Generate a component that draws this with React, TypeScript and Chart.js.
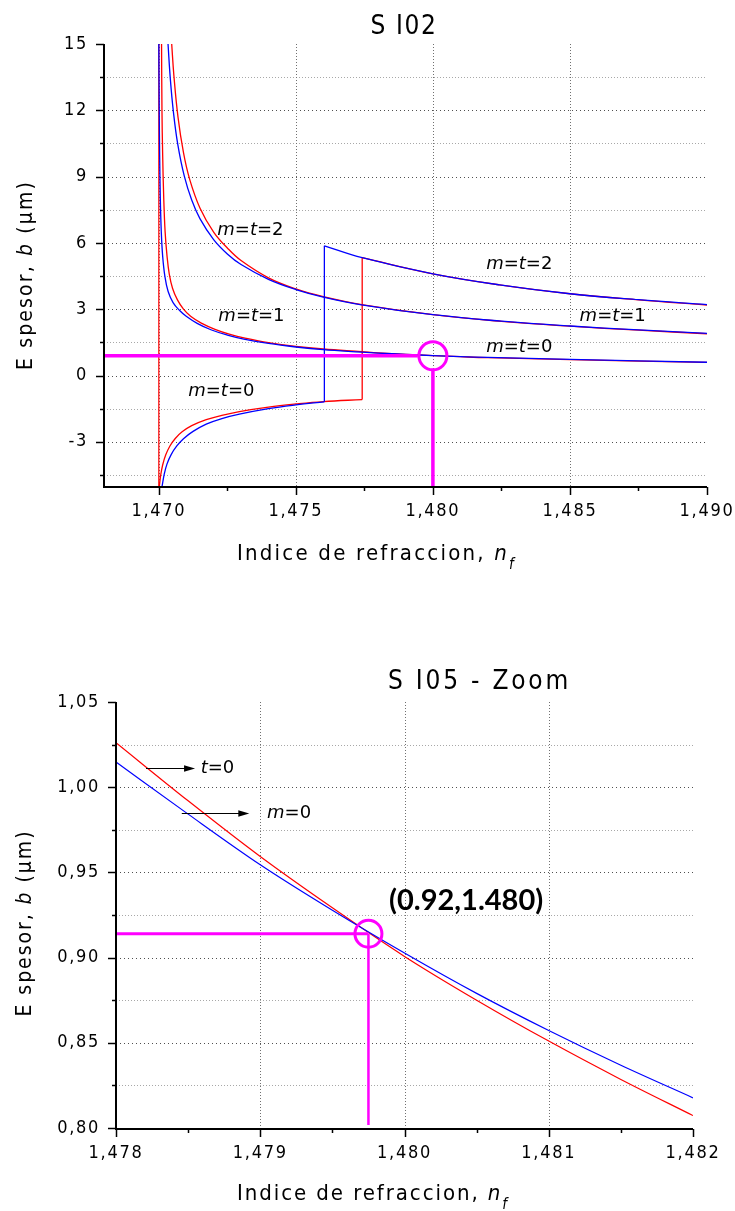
import React, { useEffect, useRef } from 'react';
import { Chart, registerables } from 'chart.js';

Chart.register(...registerables);

type Pt = [number, number];

// ---------- S I02 : thickness b versus film index n_f ----------
const topXMajor = [1.47, 1.475, 1.48, 1.485, 1.49];
const topXMinor = [1.4725, 1.4775, 1.4825, 1.4875];
const topXLabels = ['1,470', '1,475', '1,480', '1,485', '1,490'];
const topYMajor = [-3, 0, 3, 6, 9, 12, 15];
const topYMinor = [-4.5, -1.5, 1.5, 4.5, 7.5, 10.5, 13.5];
const topYLabels = ['-3', '0', '3', '6', '9', '12', '15'];

// TE branches (m, blue)
const teLow: Pt[] = [
  [1.47, 15], [1.470015, 12], [1.47003, 10], [1.470055, 8], [1.47009, 6.5],
  [1.47014, 5.4], [1.47022, 4.5], [1.47034, 3.8], [1.47052, 3.3], [1.47075, 2.95],
  [1.471, 2.68], [1.4714, 2.36], [1.4719, 2.07], [1.4725, 1.83], [1.4731, 1.65],
  [1.474, 1.45], [1.475, 1.29], [1.476, 1.17], [1.4774, 1.06], [1.478, 1.015],
  [1.479, 0.955], [1.48, 0.902], [1.481, 0.857], [1.482, 0.818], [1.485, 0.73],
  [1.49, 0.6],
];
const teMid: Pt[] = [
  [1.470336, 15], [1.47042, 13.42], [1.47053, 11.95], [1.47069, 10.47], [1.47093, 9.02],
  [1.4712, 7.94], [1.4715, 7.1], [1.472, 6.15], [1.4725, 5.5], [1.473, 5.02],
  [1.474, 4.35], [1.475, 3.89], [1.476, 3.55], [1.4774, 3.2], [1.48, 2.75],
  [1.4825, 2.46], [1.485, 2.24], [1.4875, 2.06], [1.49, 1.91],
];
const teNeg: Pt[] = [
  [1.47012, -5], [1.4702, -4.45], [1.4703, -4.0], [1.47045, -3.58], [1.47065, -3.2],
  [1.4709, -2.86], [1.47125, -2.53], [1.47173, -2.2], [1.4723, -1.95], [1.47294, -1.75],
  [1.474, -1.5], [1.475, -1.33], [1.47604, -1.19],
];
const teUpper: Pt[] = [
  [1.47604, 5.87], [1.47742, 5.33], [1.48, 4.6], [1.48243, 4.1], [1.485, 3.7],
  [1.4875, 3.43], [1.49, 3.21],
];

// TM branches (t, red)
const tmLow: Pt[] = [
  [1.4701, 15], [1.470115, 12], [1.47014, 10], [1.47018, 8], [1.47023, 6.5],
  [1.4703, 5.4], [1.47038, 4.6], [1.4705, 3.95], [1.47068, 3.42], [1.4709, 3.0],
  [1.47116, 2.68], [1.47155, 2.37], [1.47205, 2.09], [1.4726, 1.86], [1.4732, 1.68],
  [1.474, 1.49], [1.475, 1.32], [1.476, 1.2], [1.4774, 1.08], [1.478, 1.026],
  [1.479, 0.959], [1.48, 0.901], [1.481, 0.851], [1.482, 0.807], [1.485, 0.72],
  [1.49, 0.59],
];
const tmMid: Pt[] = [
  [1.47047, 15], [1.47055, 13.57], [1.4707, 11.69], [1.4709, 10.08], [1.47112, 8.9],
  [1.4715, 7.58], [1.472, 6.49], [1.4725, 5.77], [1.473, 5.2], [1.474, 4.42],
  [1.475, 3.92], [1.476, 3.57], [1.4774, 3.21], [1.48, 2.75], [1.4825, 2.45],
  [1.485, 2.23], [1.4875, 2.05], [1.49, 1.89],
];
const tmNeg: Pt[] = [
  [1.47002, -5], [1.47007, -4.5], [1.47014, -4.05], [1.47025, -3.6], [1.4704, -3.2],
  [1.4706, -2.85], [1.47085, -2.55], [1.4712, -2.27], [1.47173, -2.0], [1.4723, -1.8],
  [1.47294, -1.63], [1.474, -1.43], [1.475, -1.29], [1.476, -1.18], [1.47742, -1.09],
];
const tmUpper: Pt[] = [
  [1.47742, 5.33], [1.48, 4.6], [1.48243, 4.1], [1.485, 3.7], [1.4875, 3.42], [1.49, 3.19],
];

// substrate index: the red cut-off line
const cutoff: Pt[] = [[1.47, -5], [1.47, 15]];

// operating point b ≈ 0.89 µm at n_f = 1.480
const topMark: Pt = [1.48, 0.89];
const topMarkH: Pt[] = [[1.468, 0.89], [1.47945, 0.89]];
const topMarkV: Pt[] = [[1.48, 0.3], [1.48, -5]];

const topCurveLabels = [
  { n: '2', x: 1.47334, y: 6.56 },
  { n: '1', x: 1.47338, y: 2.67 },
  { n: '0', x: 1.47228, y: -0.7 },
  { n: '2', x: 1.48315, y: 5.05 },
  { n: '1', x: 1.48656, y: 2.7 },
  { n: '0', x: 1.48315, y: 1.27 },
];

// ---------- S I05 - Zoom ----------
const zoomXMajor = [1.478, 1.479, 1.48, 1.481, 1.482];
const zoomXMinor = [1.4785, 1.4795, 1.4805, 1.4815];
const zoomXLabels = ['1,478', '1,479', '1,480', '1,481', '1,482'];
const zoomYMajor = [0.8, 0.85, 0.9, 0.95, 1.0, 1.05];
const zoomYMinor = [0.825, 0.875, 0.925, 0.975, 1.025];
const zoomYLabels = ['0,80', '0,85', '0,90', '0,95', '1,00', '1,05'];

const zoomX = [1.478, 1.4785, 1.479, 1.4795, 1.48, 1.4805, 1.481, 1.4815, 1.482];
const zoomTE = [1.0148, 0.9842, 0.9545, 0.9278, 0.9027, 0.879, 0.8572, 0.8368, 0.8177];
const zoomTM = [1.0261, 0.992, 0.9593, 0.9292, 0.9007, 0.875, 0.851, 0.8285, 0.8073];

const zoomMark: Pt = [1.47975, 0.914];
const zoomMarkH: Pt[] = [[1.478, 0.914], [1.47975, 0.914]];
const zoomMarkV: Pt[] = [[1.47975, 0.914], [1.47975, 0.8018]];
const zoomMarkText = '(0.92,1.480)';
const zoomMarkTextAt: Pt = [1.480427, 0.9334];

const zoomArrows = [
  { sym: 't', x0: 1.478208, x1: 1.478548, y: 1.0111, tx: 1.478587 },
  { sym: 'm', x0: 1.478456, x1: 1.478924, y: 0.98476, tx: 1.479047 },
];

// ---------- styling ----------
const MAGENTA = '#ff00ff';
const BLUE = '#0000ff';
const RED = '#ff0000';
const COND = '"DejaVu Sans Condensed", "DejaVu Sans", sans-serif';
const SANS = '"DejaVu Sans", sans-serif';
const BOLD_FONT = 'Lato, "Open Sans", sans-serif';

type Piece = { t: string; italic?: boolean; bold?: boolean; size: number; family: string; dy?: number };

const fontOf = (p: Piece) => `${p.italic ? 'italic ' : ''}${p.bold ? 'bold ' : ''}${p.size}px ${p.family}`;

function naturalWidth(ctx: any, pieces: Piece[]) {
  ctx.letterSpacing = '0px';
  let w = 0;
  for (const p of pieces) {
    ctx.font = fontOf(p);
    w += ctx.measureText(p.t).width;
  }
  return w;
}
const charCount = (pieces: Piece[]) => pieces.reduce((n, p) => n + [...p.t].length, 0);

function drawPieces(ctx: any, pieces: Piece[], x: number, y: number, align: 'left' | 'center', spacing = 0) {
  const total = naturalWidth(ctx, pieces) + spacing * charCount(pieces);
  let cx = align === 'center' ? x - total / 2 : x;
  ctx.textAlign = 'left';
  for (const p of pieces) {
    ctx.font = fontOf(p);
    ctx.letterSpacing = '0px';
    const w = ctx.measureText(p.t).width;
    ctx.letterSpacing = `${spacing}px`;
    ctx.fillText(p.t, cx, y + (p.dy || 0));
    cx += w + spacing * [...p.t].length;
  }
  ctx.letterSpacing = '0px';
}

function drawFitted(ctx: any, pieces: Piece[], x: number, y: number, width: number) {
  const spacing = (width - naturalWidth(ctx, pieces)) / charCount(pieces);
  drawPieces(ctx, pieces, x, y, 'center', spacing);
}

const pts = (list: Pt[]) => list.map(([x, y]) => ({ x, y }));

// smooth: 'spline' (parametric Bezier, good for near-vertical branches), 'monotone', or straight
function curve(list: Pt[], color: string, width = 1.3, smooth: 'spline' | 'monotone' | 'none' = 'spline') {
  return {
    data: pts(list),
    showLine: true,
    borderColor: color,
    borderWidth: width,
    pointRadius: 0,
    pointHoverRadius: 0,
    fill: false,
    tension: smooth === 'spline' ? 0.4 : 0,
    cubicInterpolationMode: smooth === 'monotone' ? 'monotone' : 'default',
  };
}

function ring(p: Pt, radius: number) {
  return {
    data: pts([p]),
    showLine: false,
    pointRadius: radius,
    pointHoverRadius: radius,
    pointBorderWidth: 3,
    pointBorderColor: MAGENTA,
    pointBackgroundColor: 'rgba(0,0,0,0)',
    pointStyle: 'circle',
  };
}

function scaleOpts(min: number, max: number, major: number[], minor: number[], labels: string[], size: (s: any) => void, padding: number) {
  const all = [...major, ...minor].sort((a, b) => a - b);
  return {
    type: 'linear',
    min,
    max,
    afterBuildTicks: (s: any) => {
      s.ticks = all.map((v) => ({ value: v }));
    },
    afterFit: (s: any) => {
      size(s);
      // the plot area is fixed by the layout padding; labels may overhang it
      s.paddingLeft = 0;
      s.paddingRight = 0;
      s.paddingTop = 0;
      s.paddingBottom = 0;
    },
    grid: { display: false, drawTicks: false },
    border: { display: false },
    ticks: {
      autoSkip: false,
      maxRotation: 0,
      minRotation: 0,
      color: '#000',
      padding,
      font: { family: COND, size: 18 },
      callback: (v: number) => {
        const i = major.findIndex((m) => Math.abs(m - v) < 1e-9);
        return i >= 0 ? labels[i] : '';
      },
    },
  };
}

type Axes = { xMajor: number[]; xMinor: number[]; yMajor: number[]; yMinor: number[] };
type Decor = {
  axes: Axes;
  title: { text: string; cx: number; base: number; width: number };
  yTitle: { x: number; cy: number; len: number };
  xTitle: { left: number; right: number; base: number };
  annotate: (chart: any) => void;
};

function makeDecor(d: Decor) {
  return {
    id: 'decor',
    beforeDraw(chart: any) {
      chart.ctx.letterSpacing = '1.7px';
    },
    beforeDatasetsDraw(chart: any) {
      const { ctx, chartArea: a, scales } = chart;
      const xs = scales.x;
      const ys = scales.y;
      ctx.save();
      ctx.letterSpacing = '0px';
      ctx.lineWidth = 1;
      const inside = (s: any, v: number) => v > s.min + 1e-9 && v < s.max - 1e-9;
      // horizontal minor grid
      ctx.setLineDash([1, 2]);
      ctx.strokeStyle = '#a8a8a8';
      for (const v of d.axes.yMinor) {
        if (!inside(ys, v)) continue;
        const py = Math.round(ys.getPixelForValue(v)) + 0.5;
        ctx.beginPath();
        ctx.moveTo(a.left, py);
        ctx.lineTo(a.right, py);
        ctx.stroke();
      }
      // horizontal major grid
      ctx.setLineDash([1, 3]);
      ctx.strokeStyle = '#505050';
      for (const v of d.axes.yMajor) {
        if (!inside(ys, v)) continue;
        const py = Math.round(ys.getPixelForValue(v)) + 0.5;
        ctx.beginPath();
        ctx.moveTo(a.left, py);
        ctx.lineTo(a.right, py);
        ctx.stroke();
      }
      // vertical major grid
      ctx.setLineDash([1, 2]);
      ctx.strokeStyle = '#707070';
      for (const v of d.axes.xMajor) {
        if (!inside(xs, v)) continue;
        const px = Math.round(xs.getPixelForValue(v)) + 0.5;
        ctx.beginPath();
        ctx.moveTo(px, a.top);
        ctx.lineTo(px, a.bottom);
        ctx.stroke();
      }
      ctx.restore();
    },
    afterDatasetsDraw(chart: any) {
      const { ctx, chartArea: a, scales } = chart;
      const xs = scales.x;
      const ys = scales.y;
      ctx.save();
      ctx.letterSpacing = '0px';
      ctx.setLineDash([]);
      ctx.strokeStyle = '#000';
      // axis lines
      ctx.lineWidth = 2;
      ctx.beginPath();
      ctx.moveTo(a.left, a.top);
      ctx.lineTo(a.left, a.bottom + 1);
      ctx.lineTo(a.right, a.bottom + 1);
      ctx.stroke();
      // tick marks
      ctx.lineWidth = 1.5;
      const yTick = (v: number, len: number) => {
        const py = Math.round(ys.getPixelForValue(v)) + 0.5;
        ctx.beginPath();
        ctx.moveTo(a.left - len, py);
        ctx.lineTo(a.left, py);
        ctx.stroke();
      };
      const xTick = (v: number, len: number) => {
        const px = Math.round(xs.getPixelForValue(v)) + 0.5;
        ctx.beginPath();
        ctx.moveTo(px, a.bottom + 1);
        ctx.lineTo(px, a.bottom + 1 + len);
        ctx.stroke();
      };
      d.axes.yMajor.forEach((v) => yTick(v, 8));
      d.axes.yMinor.forEach((v) => yTick(v, 4));
      d.axes.xMajor.forEach((v) => xTick(v, 8));
      d.axes.xMinor.forEach((v) => xTick(v, 4));

      ctx.fillStyle = '#000';
      ctx.textBaseline = 'alphabetic';
      // title
      drawFitted(ctx, [{ t: d.title.text, size: 26, family: COND }], d.title.cx, d.title.base, d.title.width);
      // x axis title
      const xt = d.xTitle;
      drawFitted(
        ctx,
        [
          { t: 'Indice de refraccion, ', size: 22, family: COND },
          { t: 'n', italic: true, size: 22, family: COND },
          { t: 'f', italic: true, size: 15, family: COND, dy: 9 },
        ],
        (xt.left + xt.right) / 2,
        xt.base,
        xt.right - xt.left,
      );
      // y axis title
      ctx.save();
      ctx.translate(d.yTitle.x, d.yTitle.cy);
      ctx.rotate(-Math.PI / 2);
      drawFitted(
        ctx,
        [
          { t: 'E spesor, ', size: 21, family: COND },
          { t: 'b', italic: true, size: 21, family: COND },
          { t: ' (μm)', size: 21, family: COND },
        ],
        0,
        0,
        d.yTitle.len,
      );
      ctx.restore();

      d.annotate(chart);
      ctx.restore();
    },
  };
}

function modeLabel(ctx: any, pieces: Piece[], x: number, y: number, align: 'left' | 'center') {
  ctx.fillStyle = '#000';
  ctx.textBaseline = 'middle';
  drawPieces(ctx, pieces, x, y, align, 0);
}

const LBL = 18;

function annotateTop(chart: any) {
  const { ctx, scales } = chart;
  for (const l of topCurveLabels) {
    modeLabel(
      ctx,
      [
        { t: 'm', italic: true, size: LBL, family: SANS },
        { t: '=', size: LBL, family: SANS },
        { t: 't', italic: true, size: LBL, family: SANS },
        { t: '=' + l.n, size: LBL, family: SANS },
      ],
      scales.x.getPixelForValue(l.x),
      scales.y.getPixelForValue(l.y),
      'center',
    );
  }
}

function annotateZoom(chart: any) {
  const { ctx, scales } = chart;
  const X = (v: number) => scales.x.getPixelForValue(v);
  const Y = (v: number) => scales.y.getPixelForValue(v);
  ctx.strokeStyle = '#000';
  ctx.fillStyle = '#000';
  ctx.lineWidth = 1;
  for (const a of zoomArrows) {
    const x0 = X(a.x0);
    const x1 = X(a.x1);
    const y = Math.round(Y(a.y)) + 0.5;
    ctx.beginPath();
    ctx.moveTo(x0, y);
    ctx.lineTo(x1 - 8, y);
    ctx.stroke();
    ctx.beginPath();
    ctx.moveTo(x1, y);
    ctx.lineTo(x1 - 11, y - 3.2);
    ctx.lineTo(x1 - 11, y + 3.2);
    ctx.closePath();
    ctx.fill();
    modeLabel(
      ctx,
      [
        { t: a.sym, italic: true, size: LBL, family: SANS },
        { t: '=0', size: LBL, family: SANS },
      ],
      X(a.tx),
      y,
      'left',
    );
  }
  ctx.textBaseline = 'middle';
  drawPieces(ctx, [{ t: zoomMarkText, bold: true, size: 29, family: BOLD_FONT }], X(zoomMarkTextAt[0]), Y(zoomMarkTextAt[1]), 'center', 0);
}

const baseOptions = (padding: any, x: any, y: any) => ({
  responsive: false,
  animation: false,
  events: [],
  layout: { padding },
  plugins: { legend: { display: false }, tooltip: { enabled: false }, title: { display: false } },
  scales: { x, y },
});

const topConfig = () => ({
  type: 'scatter',
  data: {
    datasets: [
      ring(topMark, 14),
      curve(topMarkH, MAGENTA, 3.5, 'none'),
      curve(topMarkV, MAGENTA, 3.5, 'none'),
      curve(teLow, BLUE),
      curve(teMid, BLUE),
      curve(teNeg, BLUE),
      curve([teNeg[teNeg.length - 1], teUpper[0]], BLUE, 1.3, 'none'),
      curve(teUpper, BLUE),
      curve(tmLow, RED),
      curve(tmMid, RED),
      curve(tmNeg, RED),
      curve([tmNeg[tmNeg.length - 1], tmUpper[0]], RED, 1.3, 'none'),
      curve(tmUpper, RED),
      curve(cutoff, RED, 1.2, 'none'),
    ],
  },
  options: baseOptions(
    { left: 0, top: 44, right: 28, bottom: 0 },
    scaleOpts(1.468, 1.49, topXMajor, topXMinor, topXLabels, (s: any) => { s.height = 114; }, 15),
    scaleOpts(-5, 15, topYMajor, topYMinor, topYLabels, (s: any) => { s.width = 104; }, 16),
  ),
  plugins: [
    makeDecor({
      axes: { xMajor: topXMajor, xMinor: topXMinor, yMajor: topYMajor, yMinor: topYMinor },
      title: { text: 'S I02', cx: 404, base: 34, width: 67 },
      yTitle: { x: 31.5, cy: 275, len: 190 },
      xTitle: { left: 237, right: 516, base: 560 },
      annotate: annotateTop,
    }),
  ],
});

const zoomConfig = () => ({
  type: 'scatter',
  data: {
    datasets: [
      ring(zoomMark, 13.5),
      curve(zoomMarkH, MAGENTA, 3, 'none'),
      curve(zoomMarkV, MAGENTA, 2.5, 'none'),
      curve(zoomX.map((x, i) => [x, zoomTE[i]] as Pt), BLUE, 1.2, 'monotone'),
      curve(zoomX.map((x, i) => [x, zoomTM[i]] as Pt), RED, 1.2, 'monotone'),
    ],
  },
  options: baseOptions(
    { left: 0, top: 102, right: 42, bottom: 0 },
    scaleOpts(1.478, 1.482, zoomXMajor, zoomXMinor, zoomXLabels, (s: any) => { s.height = 83; }, 15),
    scaleOpts(0.8, 1.05, zoomYMajor, zoomYMinor, zoomYLabels, (s: any) => { s.width = 116; }, 16),
  ),
  plugins: [
    makeDecor({
      axes: { xMajor: zoomXMajor, xMinor: zoomXMinor, yMajor: zoomYMajor, yMinor: zoomYMinor },
      title: { text: 'S I05 - Zoom', cx: 479.5, base: 89, width: 183 },
      yTitle: { x: 31, cy: 323, len: 187 },
      xTitle: { left: 237, right: 509, base: 600 },
      annotate: annotateZoom,
    }),
  ],
});

function ChartCanvas({ make, top, height }: { make: () => any; top: number; height: number }) {
  const ref = useRef<HTMLCanvasElement>(null);
  useEffect(() => {
    const chart = new Chart(ref.current as HTMLCanvasElement, make());
    return () => chart.destroy();
  }, [make]);
  return (
    <canvas
      ref={ref}
      width={735}
      height={height}
      style={{ position: 'absolute', left: 0, top, width: 735, height, display: 'block' }}
    />
  );
}

export default function App() {
  return (
    <div style={{ position: 'absolute', left: 0, top: 0, width: 735, height: 1211, background: '#fff' }}>
      <ChartCanvas make={topConfig} top={0} height={600} />
      <ChartCanvas make={zoomConfig} top={600} height={611} />
    </div>
  );
}
